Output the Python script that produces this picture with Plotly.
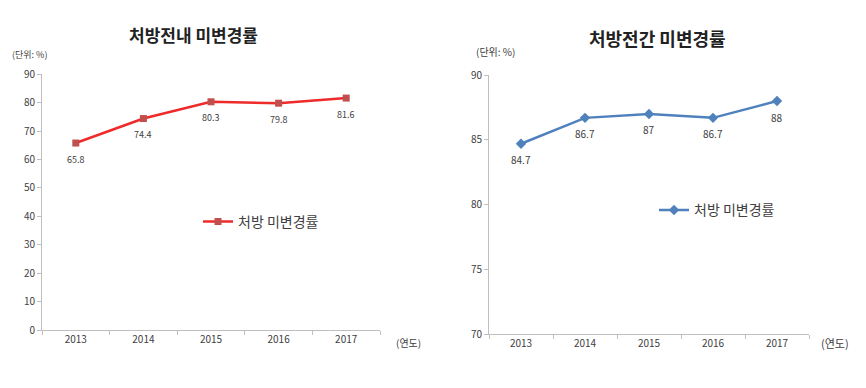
import plotly.graph_objects as go

years = ["2013", "2014", "2015", "2016", "2017"]
within_rate = [65.8, 74.4, 80.3, 79.8, 81.6]   # 처방전내 미변경률
between_rate = [84.7, 86.7, 87, 86.7, 88]      # 처방전간 미변경률
within_labels = ["65.8", "74.4", "80.3", "79.8", "81.6"]
between_labels = ["84.7", "86.7", "87", "86.7", "88"]
left_yticks = [0, 10, 20, 30, 40, 50, 60, 70, 80, 90]
right_yticks = [70, 75, 80, 85, 90]

W, H = 866, 388
FONT = "Noto Sans CJK KR"

def px_x(v):
    return v / W

def px_y(v):
    return 1 - v / H

fig = go.Figure()

fig.add_trace(go.Scatter(
    x=years, y=within_rate, mode="lines+markers",
    line=dict(color="#EE2A2A", width=2.5),
    marker=dict(symbol="square", size=7, color="#C0504D"),
    name="처방 미변경률", xaxis="x", yaxis="y", legend="legend",
    cliponaxis=False,
))

fig.add_trace(go.Scatter(
    x=years, y=between_rate, mode="lines+markers",
    line=dict(color="#4F81BD", width=2.5),
    marker=dict(symbol="diamond", size=8, color="#4F81BD"),
    name="처방 미변경률", xaxis="x2", yaxis="y2", legend="legend2",
    cliponaxis=False,
))

axis_common = dict(
    showgrid=False, zeroline=False, showline=True, linecolor="#BFBFBF",
    linewidth=1, ticks="outside", tickcolor="#BFBFBF", ticklen=4,
    tickfont=dict(size=10, color="#404040", family=FONT),
)

def note(text, x, y, size, anchor="center", color="#404040"):
    return dict(text=text, x=px_x(x), y=px_y(y), xanchor=anchor,
                yanchor="middle", xref="paper", yref="paper",
                showarrow=False, font=dict(size=size, color=color, family=FONT))

annotations = [
    note("<b>처방전내 미변경률</b>", 193, 27, 17, color="#222222"),
    note("(단위: %)", 10, 47, 9, anchor="left"),
    note("(연도)", 394, 348, 10, anchor="left"),
    note("<b>처방전간 미변경률</b>", 657, 30, 18, color="#222222"),
    note("(단위: %)", 474, 44, 10, anchor="left"),
    note("(연도)", 819, 348, 11, anchor="left"),
]
# data labels: x given as category index on the category axes
for i, (v, lab) in enumerate(zip(within_rate, within_labels)):
    annotations.append(dict(text=lab, x=i, y=v, xref="x", yref="y",
                            yshift=-16, showarrow=False, yanchor="middle",
                            font=dict(size=9, color="#404040", family=FONT)))
for i, (v, lab) in enumerate(zip(between_rate, between_labels)):
    annotations.append(dict(text=lab, x=i, y=v, xref="x2", yref="y2",
                            yshift=-16, showarrow=False, yanchor="middle",
                            font=dict(size=10, color="#404040", family=FONT)))

fig.update_layout(
    autosize=True,
    margin=dict(l=0, r=0, t=0, b=0, pad=0),
    paper_bgcolor="white", plot_bgcolor="white",
    font=dict(family=FONT),
    xaxis=dict(domain=[px_x(42), px_x(380)], anchor="y", type="category",
               range=[-0.5, 4.5], tickson="boundaries", **axis_common),
    yaxis=dict(domain=[px_y(335), px_y(68)], anchor="x", range=[0, 90],
               tickvals=left_yticks, **axis_common),
    xaxis2=dict(domain=[px_x(489), px_x(809)], anchor="y2", type="category",
                range=[-0.5, 4.5], tickson="boundaries", **axis_common),
    yaxis2=dict(domain=[px_y(339), px_y(69)], anchor="x2", range=[70, 90],
                tickvals=right_yticks, **axis_common),
    legend=dict(x=px_x(198), y=px_y(222), xanchor="left", yanchor="middle",
                font=dict(size=14, color="#404040", family=FONT),
                bgcolor="rgba(0,0,0,0)", itemwidth=30),
    legend2=dict(x=px_x(654), y=px_y(210), xanchor="left", yanchor="middle",
                 font=dict(size=14, color="#404040", family=FONT),
                 bgcolor="rgba(0,0,0,0)", itemwidth=30),
    showlegend=True,
    annotations=annotations,
)

post = (
    "document.documentElement.style.height='100%';"
    "document.documentElement.style.margin='0';"
    "document.body.style.margin='0';"
    "document.body.style.height='100%';"
    "document.body.style.overflow='hidden';"
    "var gd=document.getElementById('{plot_id}');"
    "if(gd&&gd.parentElement){gd.parentElement.style.height='100%';}"
    "gd.style.height='100%';gd.style.width='100%';"
    "Plotly.Plots.resize(gd);"
)

fig.write_html("out.html", config={"displayModeBar": False, "responsive": True},
               default_width="100%", default_height="100%",
               post_script=post)
